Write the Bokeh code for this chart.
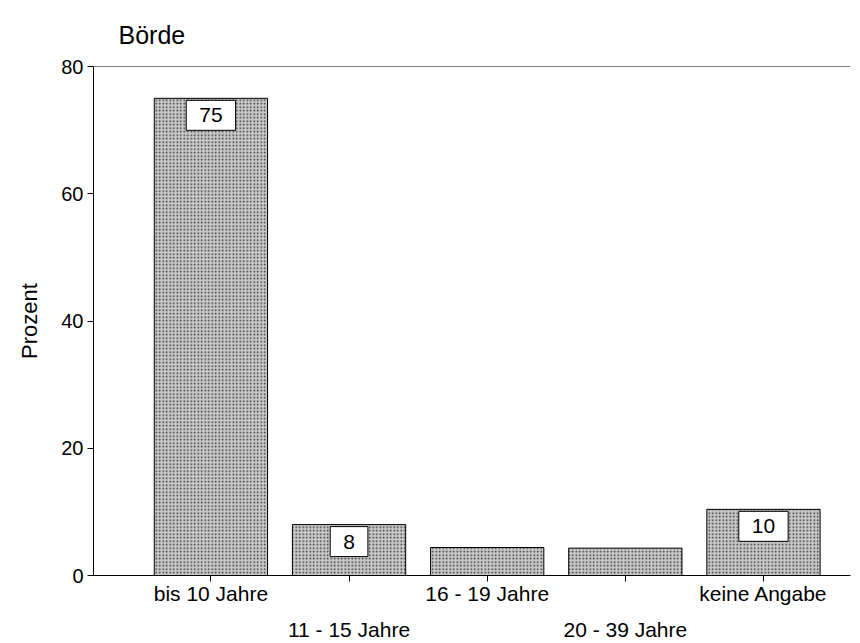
from bokeh.plotting import figure
from bokeh.models import Range1d, FixedTicker, LinearAxis, ColumnDataSource, Span
from bokeh.core.properties import value
from bokeh.embed import file_html
from bokeh.resources import INLINE

title_text = "Börde"
categories = ["bis 10 Jahre", "11 - 15 Jahre", "16 - 19 Jahre", "20 - 39 Jahre", "keine Angabe"]
percent = [75, 8, 4.4, 4.3, 10.4]
bar_labels = ["75", "8", "", "", "10"]
y_ticks = [0, 20, 40, 60, 80]

FONT = "Liberation Sans"
xs = list(range(len(categories)))
X0, X1 = -0.85, 4.63

p = figure(width=860, height=643, output_backend="svg", toolbar_location=None,
           x_range=Range1d(X0, X1), y_range=Range1d(0, 80), title=title_text,
           min_border_left=93, min_border_right=10, min_border_top=66, min_border_bottom=68)
p.outline_line_color = None
p.xgrid.visible = False
p.ygrid.visible = False
p.background_fill_color = "white"
p.border_fill_color = "white"

p.title.text_font = FONT
p.title.text_font_size = "25px"
p.title.text_font_style = "normal"
p.title.text_color = "black"
p.title.offset = 25
p.title.standoff = 35

src = ColumnDataSource(dict(x=xs, top=percent))
p.vbar(x="x", top="top", width=0.82, bottom=0, source=src,
       fill_color="#c8c8c8", line_color="black", line_width=1,
       hatch_pattern=".", hatch_color="#333333", hatch_scale=3.5)

lx = [x for x, t in zip(xs, bar_labels) if t]
ly = [v for v, t in zip(percent, bar_labels) if t]
lt = [t for t in bar_labels if t]
lsrc = ColumnDataSource(dict(x=lx, y=ly, t=lt))
p.text(x="x", y="y", text="t", source=lsrc, text_font=value(FONT), text_font_size="21px",
       text_color="black", anchor="top_center", text_align="center", text_baseline="top",
       y_offset=2, padding=(13, 8), background_fill_color="white",
       border_line_color="black", border_line_width=1)

p.add_layout(Span(location=80, dimension="width", line_color="black", line_width=1))

# y axis
ya = p.yaxis[0]
ya.ticker = FixedTicker(ticks=y_ticks)
ya.minor_tick_line_color = None
ya.major_tick_out = 6
ya.major_tick_in = 0
ya.major_tick_line_color = "black"
ya.major_label_standoff = 4
ya.major_label_text_font = FONT
ya.major_label_text_font_size = "20px"
ya.major_label_text_color = "black"
ya.axis_label = "Prozent"
ya.axis_label_text_font = FONT
ya.axis_label_text_font_size = "22px"
ya.axis_label_text_font_style = "normal"
ya.axis_label_text_color = "black"
ya.axis_label_standoff = 16
ya.axis_line_color = "black"

# x axis: first row
xa = p.xaxis[0]
xa.ticker = FixedTicker(ticks=xs)
xa.minor_tick_line_color = None
xa.major_tick_out = 6
xa.major_tick_in = 0
xa.major_tick_line_color = "black"
xa.axis_line_color = "black"
xa.major_label_standoff = 0
xa.major_label_text_font = FONT
xa.major_label_text_font_size = "21px"
xa.major_label_text_color = "black"
xa.major_label_overrides = {i: (c if i % 2 == 0 else "") for i, c in enumerate(categories)}

# x axis: second row (staggered labels)
xa2 = LinearAxis(ticker=FixedTicker(ticks=[i for i in xs if i % 2 == 1]))
xa2.axis_line_color = None
xa2.major_tick_line_color = None
xa2.minor_tick_line_color = None
xa2.major_label_standoff = 4
xa2.major_label_text_font = FONT
xa2.major_label_text_font_size = "21px"
xa2.major_label_text_color = "black"
xa2.major_label_overrides = {i: c for i, c in enumerate(categories) if i % 2 == 1}
p.add_layout(xa2, "below")

open("out.html", "w").write(file_html(p, INLINE))
